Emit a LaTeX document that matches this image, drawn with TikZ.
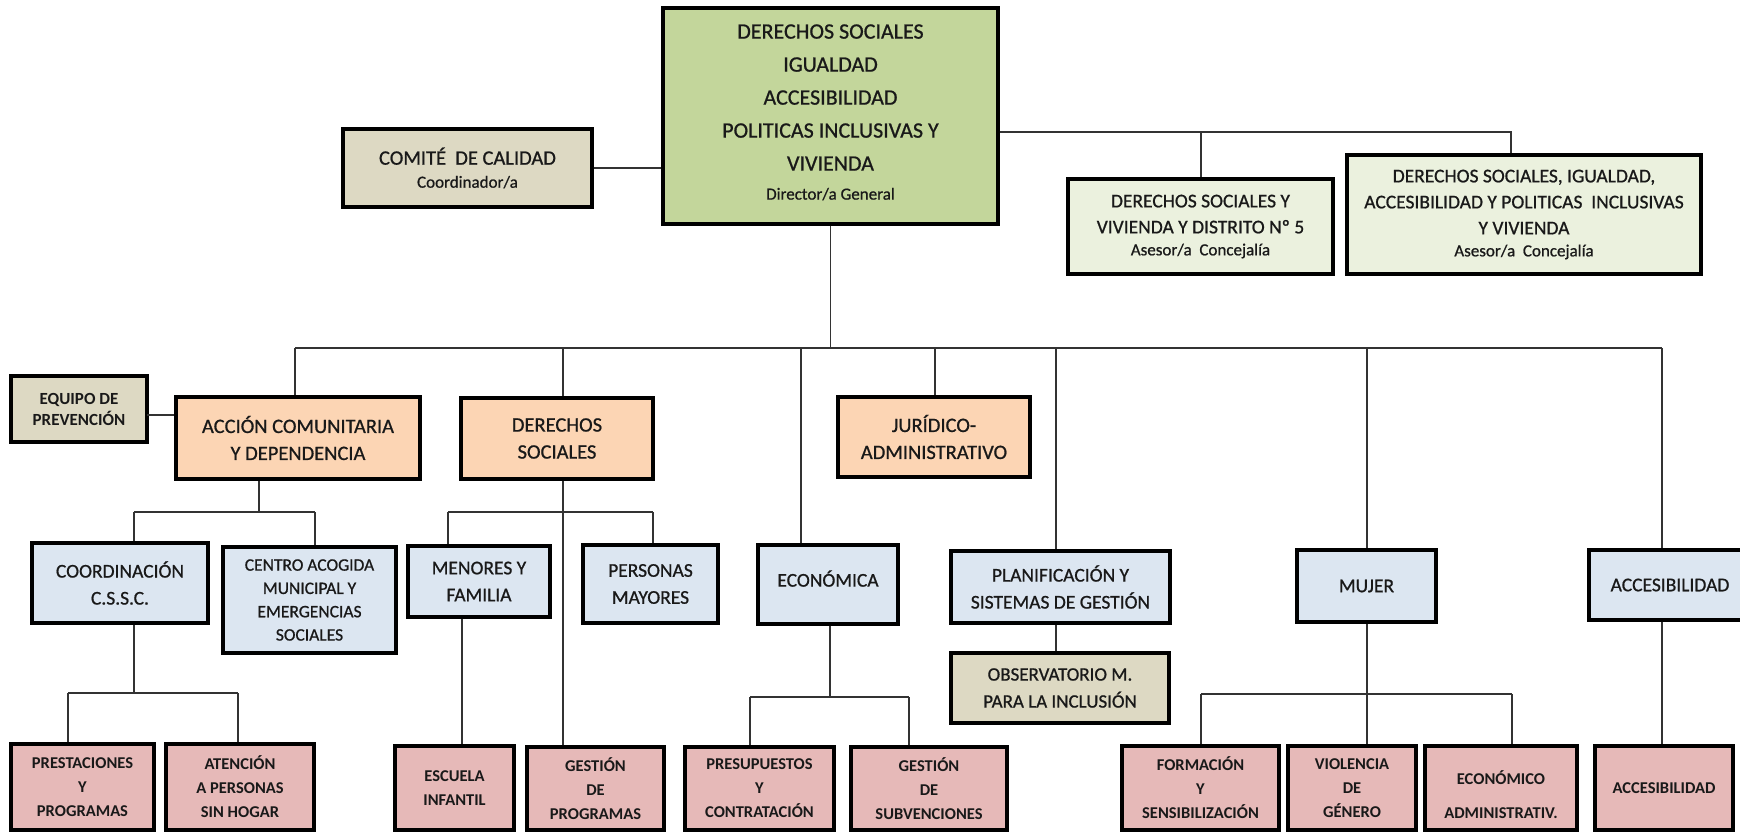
\documentclass[tikz,border=0pt]{standalone}
\usepackage{fontspec}
\setmainfont{Carlito}[UprightFeatures={FakeBold=0.8}]
\definecolor{cGrn}{HTML}{C3D69B}
\definecolor{cTan}{HTML}{DDD9C3}
\definecolor{cGrnL}{HTML}{EBF1DE}
\definecolor{cOra}{HTML}{FCD5B4}
\definecolor{cBlu}{HTML}{DCE6F1}
\definecolor{cPnk}{HTML}{E6B9B8}
\newcommand\fMain{\fontsize{22}{33}\selectfont}
\newcommand\fLvl{\fontsize{20.5}{27}\selectfont}
\newcommand\fThr{\fontsize{19.5}{27}\selectfont}
\newcommand\fTop{\fontsize{19.5}{26}\selectfont}
\newcommand\fCen{\fontsize{17.5}{23.3}\selectfont}
\newcommand\fSmall{\fontsize{17}{20}\selectfont}
\newcommand\fBot{\fontsize{16.5}{24}\selectfont\bfseries}
\newcommand\fEq{\fontsize{17}{21}\selectfont\bfseries}
\newcommand\fObs{\fontsize{19}{27}\selectfont}
\begin{document}
\begin{tikzpicture}[x=1pt,y=-1pt,
  box/.style={draw=black, line width=3.2pt, align=center, inner sep=0pt, text=black!90},
  lnk/.style={draw=black!80, line width=1.4pt},
  green/.style={box, fill=cGrn},
  tanbox/.style={box, fill=cTan},
  lgreen/.style={box, fill=cGrnL},
  orange/.style={box, fill=cOra},
  blue/.style={box, fill=cBlu},
  pink/.style={box, fill=cPnk, font=\fBot},
]
\useasboundingbox (0,0) rectangle (1740,832);
\fill[white] (0,0) rectangle (1740,832);
\clip (0,0) rectangle (1740,832);

% ---------- top level ----------
\node[green, minimum width=335pt, minimum height=216pt, font=\fMain] (main) at (830.5,116)
  {DERECHOS SOCIALES\\IGUALDAD\\ACCESIBILIDAD\\POLITICAS INCLUSIVAS Y\\VIVIENDA\\[-4pt]{\fSmall Director/a General}\\[-25pt]\mbox{}};
\node[tanbox, minimum width=249pt, minimum height=78pt, font=\fLvl] (comite) at (467.5,168)
  {COMITÉ\ \ DE CALIDAD\\[-4pt]{\fSmall Coordinador/a}};
\node[lgreen, minimum width=265pt, minimum height=95pt, font=\fTop] (asesA) at (1200.5,226.5)
  {DERECHOS SOCIALES Y\\VIVIENDA Y DISTRITO Nº 5\\[-4pt]{\fSmall Asesor/a\ \ Concejalía}};
\node[lgreen, minimum width=354pt, minimum height=119pt, font=\fTop] (asesB) at (1524,214.5)
  {DERECHOS SOCIALES, IGUALDAD,\\ACCESIBILIDAD Y POLITICAS\ \ INCLUSIVAS\\Y VIVIENDA\\[-4pt]{\fSmall Asesor/a\ \ Concejalía}};

% ---------- second level ----------
\node[tanbox, minimum width=136pt, minimum height=66pt, font=\fEq] (equipo) at (79,409)
  {EQUIPO DE\\PREVENCIÓN};
\node[orange, minimum width=244pt, minimum height=82pt, font=\fLvl] (accion) at (298,438)
  {ACCIÓN COMUNITARIA\\Y DEPENDENCIA};
\node[orange, minimum width=192pt, minimum height=81pt, font=\fLvl] (dsoc) at (557,438.5)
  {DERECHOS\\SOCIALES};
\node[orange, minimum width=192pt, minimum height=80pt, font=\fLvl] (jur) at (934,437)
  {JURÍDICO-\\ADMINISTRATIVO};

% ---------- third level ----------
\node[blue, minimum width=176pt, minimum height=80pt, font=\fThr] (coord) at (120,583)
  {COORDINACIÓN\\C.S.S.C.};
\node[blue, minimum width=173pt, minimum height=106pt, font=\fCen] (centro) at (309.5,600)
  {CENTRO ACOGIDA\\MUNICIPAL Y\\EMERGENCIAS\\SOCIALES};
\node[blue, minimum width=142pt, minimum height=71pt, font=\fThr] (menores) at (479,581.5)
  {MENORES Y\\FAMILIA};
\node[blue, minimum width=135pt, minimum height=78pt, font=\fThr] (personas) at (650.5,584)
  {PERSONAS\\MAYORES};
\node[blue, minimum width=140pt, minimum height=79pt, font=\fThr] (econ) at (828,584.5)
  {ECONÓMICA\\[-15pt]\mbox{}};
\node[blue, minimum width=219pt, minimum height=72pt, font=\fThr] (planif) at (1060.5,587)
  {PLANIFICACIÓN Y\\SISTEMAS DE GESTIÓN};
\node[blue, minimum width=139pt, minimum height=72pt, font=\fThr] (mujer) at (1366.5,586)
  {MUJER};
\node[blue, minimum width=162pt, minimum height=70pt, font=\fThr] (accB) at (1670,585)
  {ACCESIBILIDAD};
\node[tanbox, minimum width=218pt, minimum height=70pt, font=\fObs] (observ) at (1060,688)
  {OBSERVATORIO M.\\PARA LA INCLUSIÓN};

% ---------- bottom level ----------
\node[pink, minimum width=143pt, minimum height=86pt] (prest) at (82.5,787) {PRESTACIONES\\Y\\PROGRAMAS};
\node[pink, minimum width=148pt, minimum height=86pt] (atenc) at (240,787) {ATENCIÓN\\A PERSONAS\\SIN HOGAR};
\node[pink, minimum width=119pt, minimum height=84pt] (escuela) at (454.5,788) {ESCUELA\\INFANTIL};
\node[pink, minimum width=137pt, minimum height=83pt] (gprog) at (595.5,788.5) {GESTIÓN\\DE\\PROGRAMAS};
\node[pink, minimum width=149pt, minimum height=83pt] (presup) at (759.5,788.5) {PRESUPUESTOS\\Y\\CONTRATACIÓN};
\node[pink, minimum width=156pt, minimum height=83pt] (gsubv) at (929,788.5) {GESTIÓN\\DE\\SUBVENCIONES};
\node[pink, minimum width=157pt, minimum height=84pt] (form) at (1200.5,788) {FORMACIÓN\\Y\\SENSIBILIZACIÓN};
\node[pink, minimum width=128pt, minimum height=84pt] (viol) at (1352,788) {VIOLENCIA\\DE\\GÉNERO};
\node[pink, minimum width=152pt, minimum height=84pt] (econadm) at (1501,788) {\mbox{}\\[4pt]ECONÓMICO\\[10pt]ADMINISTRATIV.};
\node[pink, minimum width=138pt, minimum height=84pt] (accP) at (1664,788) {ACCESIBILIDAD};

% ---------- connectors: top ----------
\draw[lnk] (comite.east) -- (comite.east -| main.west);
\coordinate (rB) at (1511,132);
\coordinate (rA) at (1201,132);
\draw[lnk] (main.east |- rB) -- (rB) -- (rB |- asesB.north);
\draw[lnk] (rA) -- (rA |- asesA.north);

% ---------- main bus ----------
\coordinate (bL) at (295,348);
\coordinate (bR) at (1662,348);
\draw[lnk] (main.south) -- (main.south |- bL);
\draw[lnk] (bL) -- (bR);
\draw[lnk] (bL) -- (bL |- accion.north);
\coordinate (bD) at (563,348);  \draw[lnk] (bD) -- (bD |- dsoc.north);
\coordinate (bE) at (801,348);  \draw[lnk] (bE) -- (bE |- econ.north);
\coordinate (bJ) at (935,348);  \draw[lnk] (bJ) -- (bJ |- jur.north);
\coordinate (bP) at (1056,348); \draw[lnk] (bP) -- (bP |- planif.north);
\coordinate (bM) at (1367,348); \draw[lnk] (bM) -- (bM |- mujer.north);
\draw[lnk] (bR) -- (bR |- accB.north);

% ---------- accion / equipo ----------
\coordinate (eq) at (147,415);
\draw[lnk] (eq) -- (eq -| accion.west);
\coordinate (aM) at (259,512);
\coordinate (aL) at (134,512);
\coordinate (aR) at (315,512);
\draw[lnk] (aM |- accion.south) -- (aM);
\draw[lnk] (aL) -- (aR);
\draw[lnk] (aL) -- (aL |- coord.north);
\draw[lnk] (aR) -- (aR |- centro.north);

% ---------- derechos sociales ----------
\coordinate (dM) at (563,512);
\coordinate (dL) at (448,512);
\coordinate (dR) at (653,512);
\draw[lnk] (dM |- dsoc.south) -- (dM |- gprog.north);
\draw[lnk] (dL) -- (dR);
\draw[lnk] (dL) -- (dL |- menores.north);
\draw[lnk] (dR) -- (dR |- personas.north);
\coordinate (mn) at (462,620);
\draw[lnk] (mn |- menores.south) -- (mn |- escuela.north);

% ---------- coordinacion ----------
\coordinate (cM) at (134,693);
\coordinate (cL) at (68,693);
\coordinate (cR) at (238,693);
\draw[lnk] (cM |- coord.south) -- (cM);
\draw[lnk] (cL) -- (cR);
\draw[lnk] (cL) -- (cL |- prest.north);
\draw[lnk] (cR) -- (cR |- atenc.north);

% ---------- economica ----------
\coordinate (xM) at (830,697);
\coordinate (xL) at (750,697);
\coordinate (xR) at (909,697);
\draw[lnk] (xM |- econ.south) -- (xM);
\draw[lnk] (xL) -- (xR);
\draw[lnk] (xL) -- (xL |- presup.north);
\draw[lnk] (xR) -- (xR |- gsubv.north);

% ---------- planificacion ----------
\draw[lnk] (bP |- planif.south) -- (bP |- observ.north);

% ---------- mujer ----------
\coordinate (wL) at (1201,694);
\coordinate (wR) at (1512,694);
\draw[lnk] (bM |- mujer.south) -- (bM |- viol.north);
\draw[lnk] (wL) -- (wR);
\draw[lnk] (wL) -- (wL |- form.north);
\draw[lnk] (wR) -- (wR |- econadm.north);

% ---------- accesibilidad ----------
\draw[lnk] (bR |- accB.south) -- (bR |- accP.north);
\end{tikzpicture}
\end{document}
